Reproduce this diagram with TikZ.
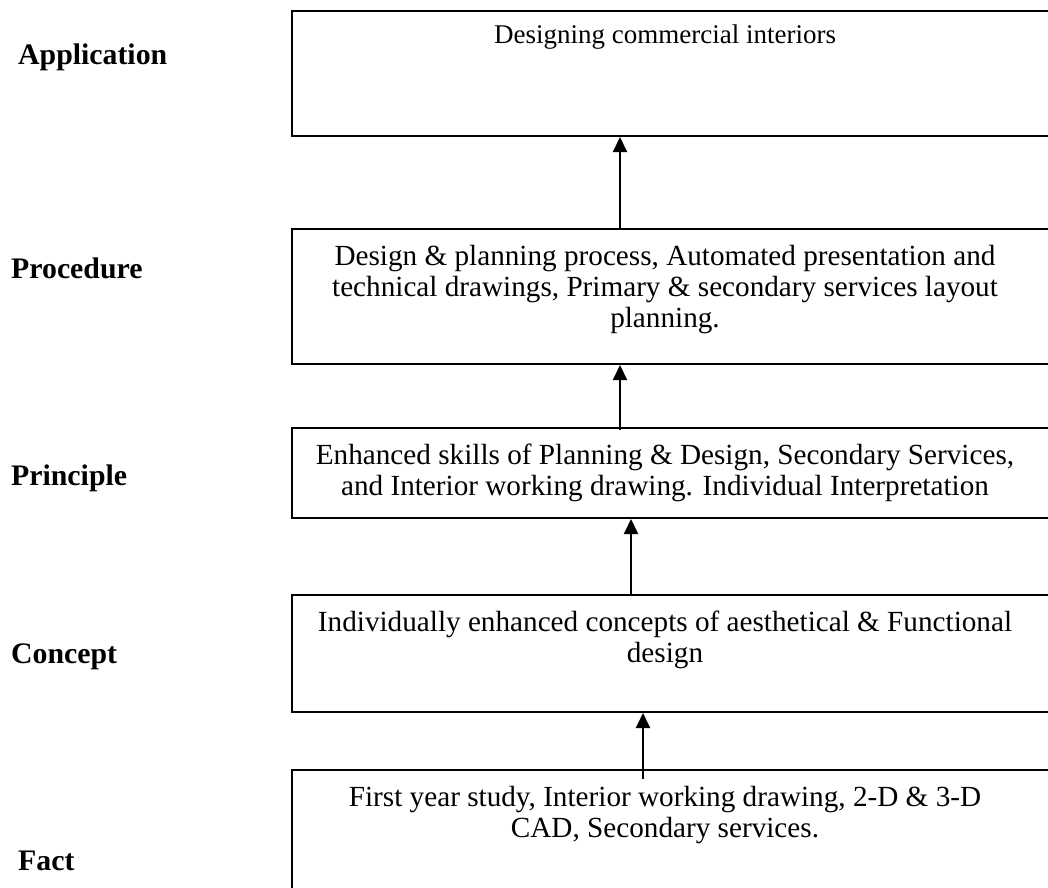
\documentclass[tikz,border=0pt]{standalone}
\usepackage{fontspec}
\setmainfont{Liberation Serif}
\usetikzlibrary{arrows.meta,calc}
\begin{document}
\begin{tikzpicture}[x=1pt,y=-1pt,
  levelbox/.style={draw=black,line width=2pt,rectangle,anchor=north west,minimum width=780pt,inner sep=0pt},
  boxtext/.style={anchor=north,align=center,inner sep=0pt,font=\fontsize{29.2}{31}\selectfont},
  toptext/.style={anchor=north,align=center,inner sep=0pt,font=\fontsize{27}{31}\selectfont},
  lvl/.style={anchor=west,inner sep=0pt,font=\fontsize{29.8}{34}\selectfont\bfseries},
  uparrow/.style={line width=2pt,-{Triangle[length=15pt,width=14pt]}}]
\useasboundingbox (0,0) rectangle (1048,887);
\clip (0,0) rectangle (1048,887);
% boxes
\node[levelbox,minimum height=125pt] (app) at (291,10) {};
\node[levelbox,minimum height=135pt] (proc) at (291,228) {};
\node[levelbox,minimum height=90pt] (prin) at (291,427) {};
\node[levelbox,minimum height=117pt] (conc) at (291,594) {};
\node[levelbox,minimum height=160pt] (fact) at (291,769) {};
% box texts
\node[toptext] (tapp) at (665,25) {Designing commercial interiors};
\node[boxtext] (tproc) at (665,245) {Design \& planning process, Automated presentation and\\technical drawings, Primary \& secondary services layout\\planning.};
\node[boxtext] (tprin) at (665,444) {Enhanced skills of Planning \& Design, Secondary Services,\\and Interior working drawing. Individual Interpretation};
\node[boxtext] (tconc) at (665,611) {Individually enhanced concepts of aesthetical \& Functional\\design};
\node[boxtext] (tfact) at (665,786) {First year study, Interior working drawing, 2-D \& 3-D\\CAD, Secondary services.};
% level labels
\node[lvl] (lapp) at (18,57) {Application};
\node[lvl] (lproc) at (11,268) {Procedure};
\node[lvl] (lprin) at (11,478) {Principle};
\node[lvl] (lconc) at (11,657) {Concept};
\node[lvl] (lfact) at (18,861) {Fact};
% arrow start points
\coordinate (s1) at ($(proc.north west)+(329,0)$);
\coordinate (s2) at ($(prin.north west)+(329,3)$);
\coordinate (s3) at ($(conc.north west)+(340,0)$);
\coordinate (s4) at ($(fact.north west)+(352,10)$);
\draw[uparrow] (s1) -- (s1 |- app.south);
\draw[uparrow] (s2) -- (s2 |- proc.south);
\draw[uparrow] (s3) -- (s3 |- prin.south);
\draw[uparrow] (s4) -- (s4 |- conc.south);
\end{tikzpicture}
\end{document}
